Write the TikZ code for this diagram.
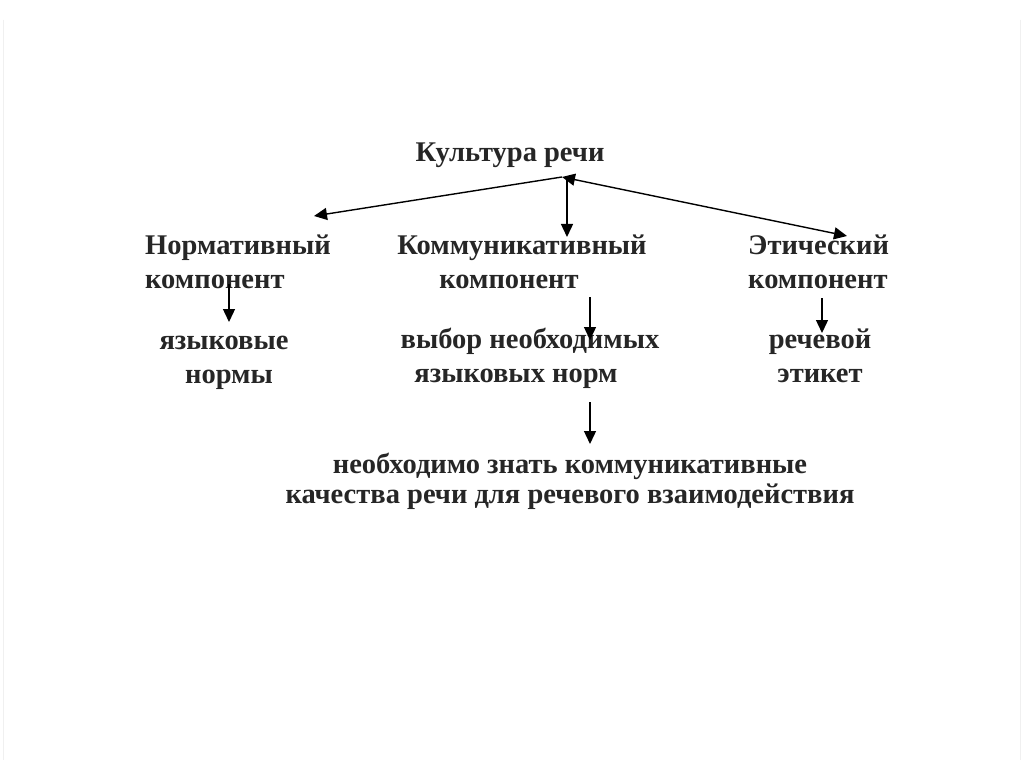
\documentclass[tikz,border=0pt]{standalone}
\usepackage{fontspec}
\setmainfont{Liberation Serif}
\usetikzlibrary{arrows.meta}
\begin{document}
\begin{tikzpicture}[x=1pt,y=-1pt,
  txt/.style={font=\fontsize{28.5}{34}\selectfont\bfseries, inner sep=0pt, text=black!85},
  arr/.style={line width=1.4pt, -{Triangle[length=13pt,width=12pt]}},
  darr/.style={line width=1.4pt, {Triangle[length=13pt,width=12pt]}-{Triangle[length=13pt,width=12pt]}}]
\useasboundingbox (0,0) rectangle (1024,767);
\fill[white] (0,0) rectangle (1024,767);
\draw[black!6, line width=1pt] (3,20) -- (3,760);
\draw[black!6, line width=1pt] (1020,20) -- (1020,760);

\node[txt] (top) at (510,155) {Культура речи};
\node[txt, anchor=west, align=left] (norm) at (145,262) {Нормативный\\компонент};
\node[txt, align=center] (komm) at (522,262) {Коммуникативный\\компонент\hspace*{26pt}};
\node[txt, anchor=west, align=left] (etich) at (748,262) {Этический\\компонент};
\node[txt, align=center] (yaz) at (224,363) {языковые\\\hspace*{10pt}нормы};
\node[txt, align=center] (vybor) at (530,358) {выбор необходимых\\языковых норм\hspace*{28pt}};
\node[txt, align=center] (rech) at (820,356) {речевой\\этикет};
\node[txt, align=center, font=\fontsize{28.5}{30}\selectfont\bfseries] (bott) at (570,481) {необходимо знать коммуникативные\\качества речи для речевого взаимодействия};

\coordinate (apex) at (562,177);
\coordinate (apexd) at (567,177);
\coordinate (l1) at (314,216);
\coordinate (m1) at (567,237);
\coordinate (r1) at (847,236);
\coordinate (ns) at (229,284);
\coordinate (ne) at (229,322);
\coordinate (ks) at (590,297);
\coordinate (ke) at (590,340);
\coordinate (es) at (822,298);
\coordinate (ee) at (822,333);
\coordinate (vs) at (590,402);
\coordinate (ve) at (590,444);

\draw[arr] (apex) -- (l1);
\draw[arr] (apexd) -- (m1);
\draw[darr] (apex) -- (r1);
\draw[arr] (ns) -- (ne);
\draw[arr] (ks) -- (ke);
\draw[arr] (es) -- (ee);
\draw[arr] (vs) -- (ve);
\end{tikzpicture}
\end{document}
